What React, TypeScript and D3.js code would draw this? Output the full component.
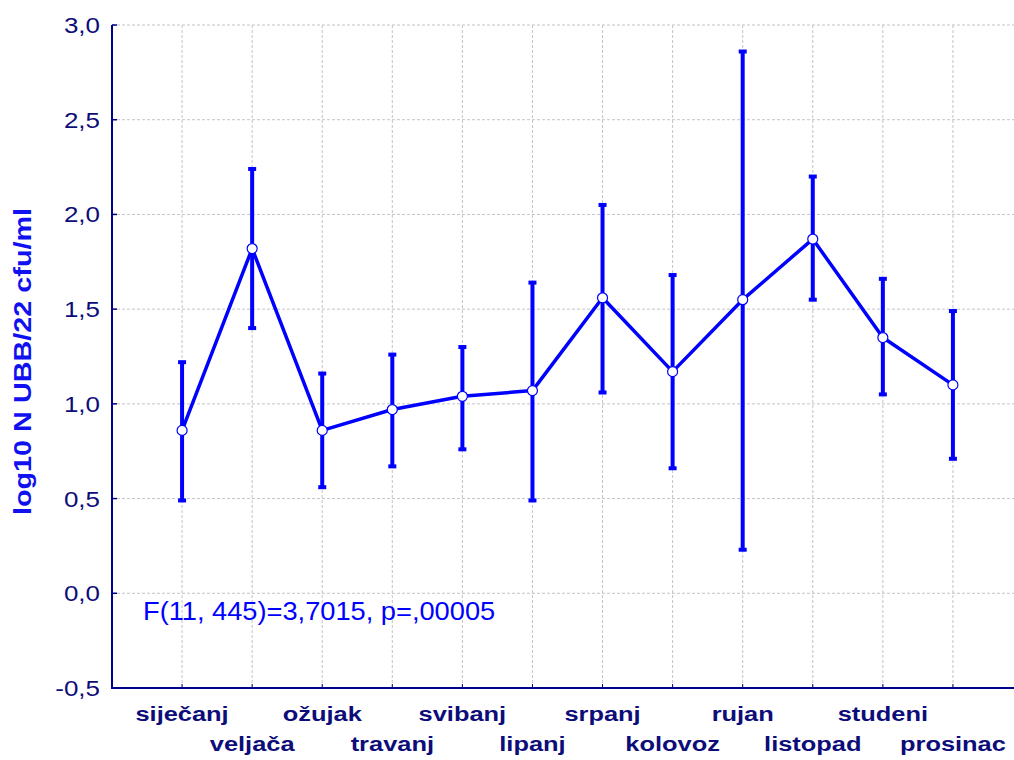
import React from "react";
import * as d3 from "d3";

const months = [
  "siječanj", "veljača", "ožujak", "travanj", "svibanj", "lipanj",
  "srpanj", "kolovoz", "rujan", "listopad", "studeni", "prosinac",
];
const means = [0.86, 1.82, 0.86, 0.97, 1.04, 1.07, 1.56, 1.17, 1.55, 1.87, 1.35, 1.10];
const upper = [1.22, 2.24, 1.16, 1.26, 1.30, 1.64, 2.05, 1.68, 2.86, 2.20, 1.66, 1.49];
const lower = [0.49, 1.40, 0.56, 0.67, 0.76, 0.49, 1.06, 0.66, 0.23, 1.55, 1.05, 0.71];
const yTicks = [-0.5, 0, 0.5, 1, 1.5, 2, 2.5, 3];
const statText = "F(11, 445)=3,7015, p=,00005";
const yLabel = "log10 N UBB/22 cfu/ml";

const W = 1014;
const H = 760;
const left = 112;
const right = 1023;
const top = 25;
const bottom = 688;

const axisColor = "#00008b";
const lineColor = "#0000ff";
const gridColor = "#c4c4c4";
const labelColor = "#0d0d7a";
const font = "'Liberation Sans', Arial, sans-serif";

// the original renders text a bit wider than normal Arial
function Wide({ x, y, sx = 1.2, rotate = 0, children, ...rest }: any) {
  return (
    <text transform={`translate(${x},${y}) rotate(${rotate}) scale(${sx},1)`} {...rest}>
      {children}
    </text>
  );
}

export default function App() {
  const x = d3
    .scalePoint<string>()
    .domain(months)
    .range([left, right])
    .padding(1);
  const y = d3.scaleLinear().domain([-0.5, 3]).range([bottom, top]);
  const fmt = (v: number) => d3.format(".1f")(v).replace(".", ",").replace("−", "-");

  const line = d3
    .line<number>()
    .x((_, i) => x(months[i]) as number)
    .y((d) => y(d));

  return (
    <div style={{ position: "fixed", left: 0, top: 0, width: W, height: H, overflow: "hidden" }}>
      <svg width={W} height={H} style={{ display: "block", background: "#fff" }}>
        {/* grid */}
        <g stroke={gridColor} strokeWidth={1} strokeDasharray="3,2">
          {yTicks.slice(1).map((t) => (
            <line key={t} x1={left} x2={W} y1={y(t)} y2={y(t)} />
          ))}
          {months.map((m) => (
            <line key={m} x1={x(m)} x2={x(m)} y1={top} y2={bottom} />
          ))}
        </g>

        {/* axes */}
        <g stroke={axisColor} strokeWidth={2}>
          <line x1={left} x2={left} y1={top} y2={bottom + 1} />
          <line x1={left - 1} x2={W} y1={bottom} y2={bottom} />
          {yTicks.map((t) => (
            <line key={t} x1={left} x2={left + 5} y1={y(t)} y2={y(t)} strokeWidth={1.5} />
          ))}
          {months.map((m) => (
            <line key={m} x1={x(m)} x2={x(m)} y1={bottom} y2={bottom - 4} strokeWidth={1} />
          ))}
        </g>
        <g fill={labelColor} fontFamily={font} fontSize={22} textAnchor="end">
          {yTicks.map((t) => (
            <Wide key={t} x={left - 12} y={y(t) + 8} sx={1.18}>
              {fmt(t)}
            </Wide>
          ))}
        </g>
        <g fill={labelColor} fontFamily={font} fontSize={20} fontWeight="bold" textAnchor="middle">
          {months.map((m, i) => (
            <Wide key={m} x={x(m)} y={i % 2 === 0 ? 721 : 751} sx={1.27}>
              {m}
            </Wide>
          ))}
        </g>
        <Wide
          x={31}
          y={(top + bottom) / 2 + 5}
          rotate={-90}
          sx={1.2}
          textAnchor="middle"
          fill="#1010f0"
          fontFamily={font}
          fontSize={24}
          fontWeight="bold"
        >
          {yLabel}
        </Wide>
        <Wide x={143} y={620} sx={1.09} fill={lineColor} fontFamily={font} fontSize={25}>
          {statText}
        </Wide>

        {/* error bars */}
        <g stroke={lineColor} fill={lineColor}>
          {months.map((m, i) => {
            const cx = x(m) as number;
            return (
              <g key={m}>
                <line x1={cx} x2={cx} y1={y(upper[i])} y2={y(lower[i])} strokeWidth={4} />
                <rect x={cx - 4} y={y(upper[i]) - 2} width={8} height={4} stroke="none" />
                <rect x={cx - 4} y={y(lower[i]) - 2} width={8} height={4} stroke="none" />
              </g>
            );
          })}
        </g>

        {/* mean line */}
        <path d={line(means) ?? ""} fill="none" stroke={lineColor} strokeWidth={3.5} strokeLinejoin="round" />
        {means.map((v, i) => (
          <circle
            key={months[i]}
            cx={x(months[i])}
            cy={y(v)}
            r={5}
            fill="#fff"
            stroke={lineColor}
            strokeWidth={1.2}
          />
        ))}
      </svg>
    </div>
  );
}
